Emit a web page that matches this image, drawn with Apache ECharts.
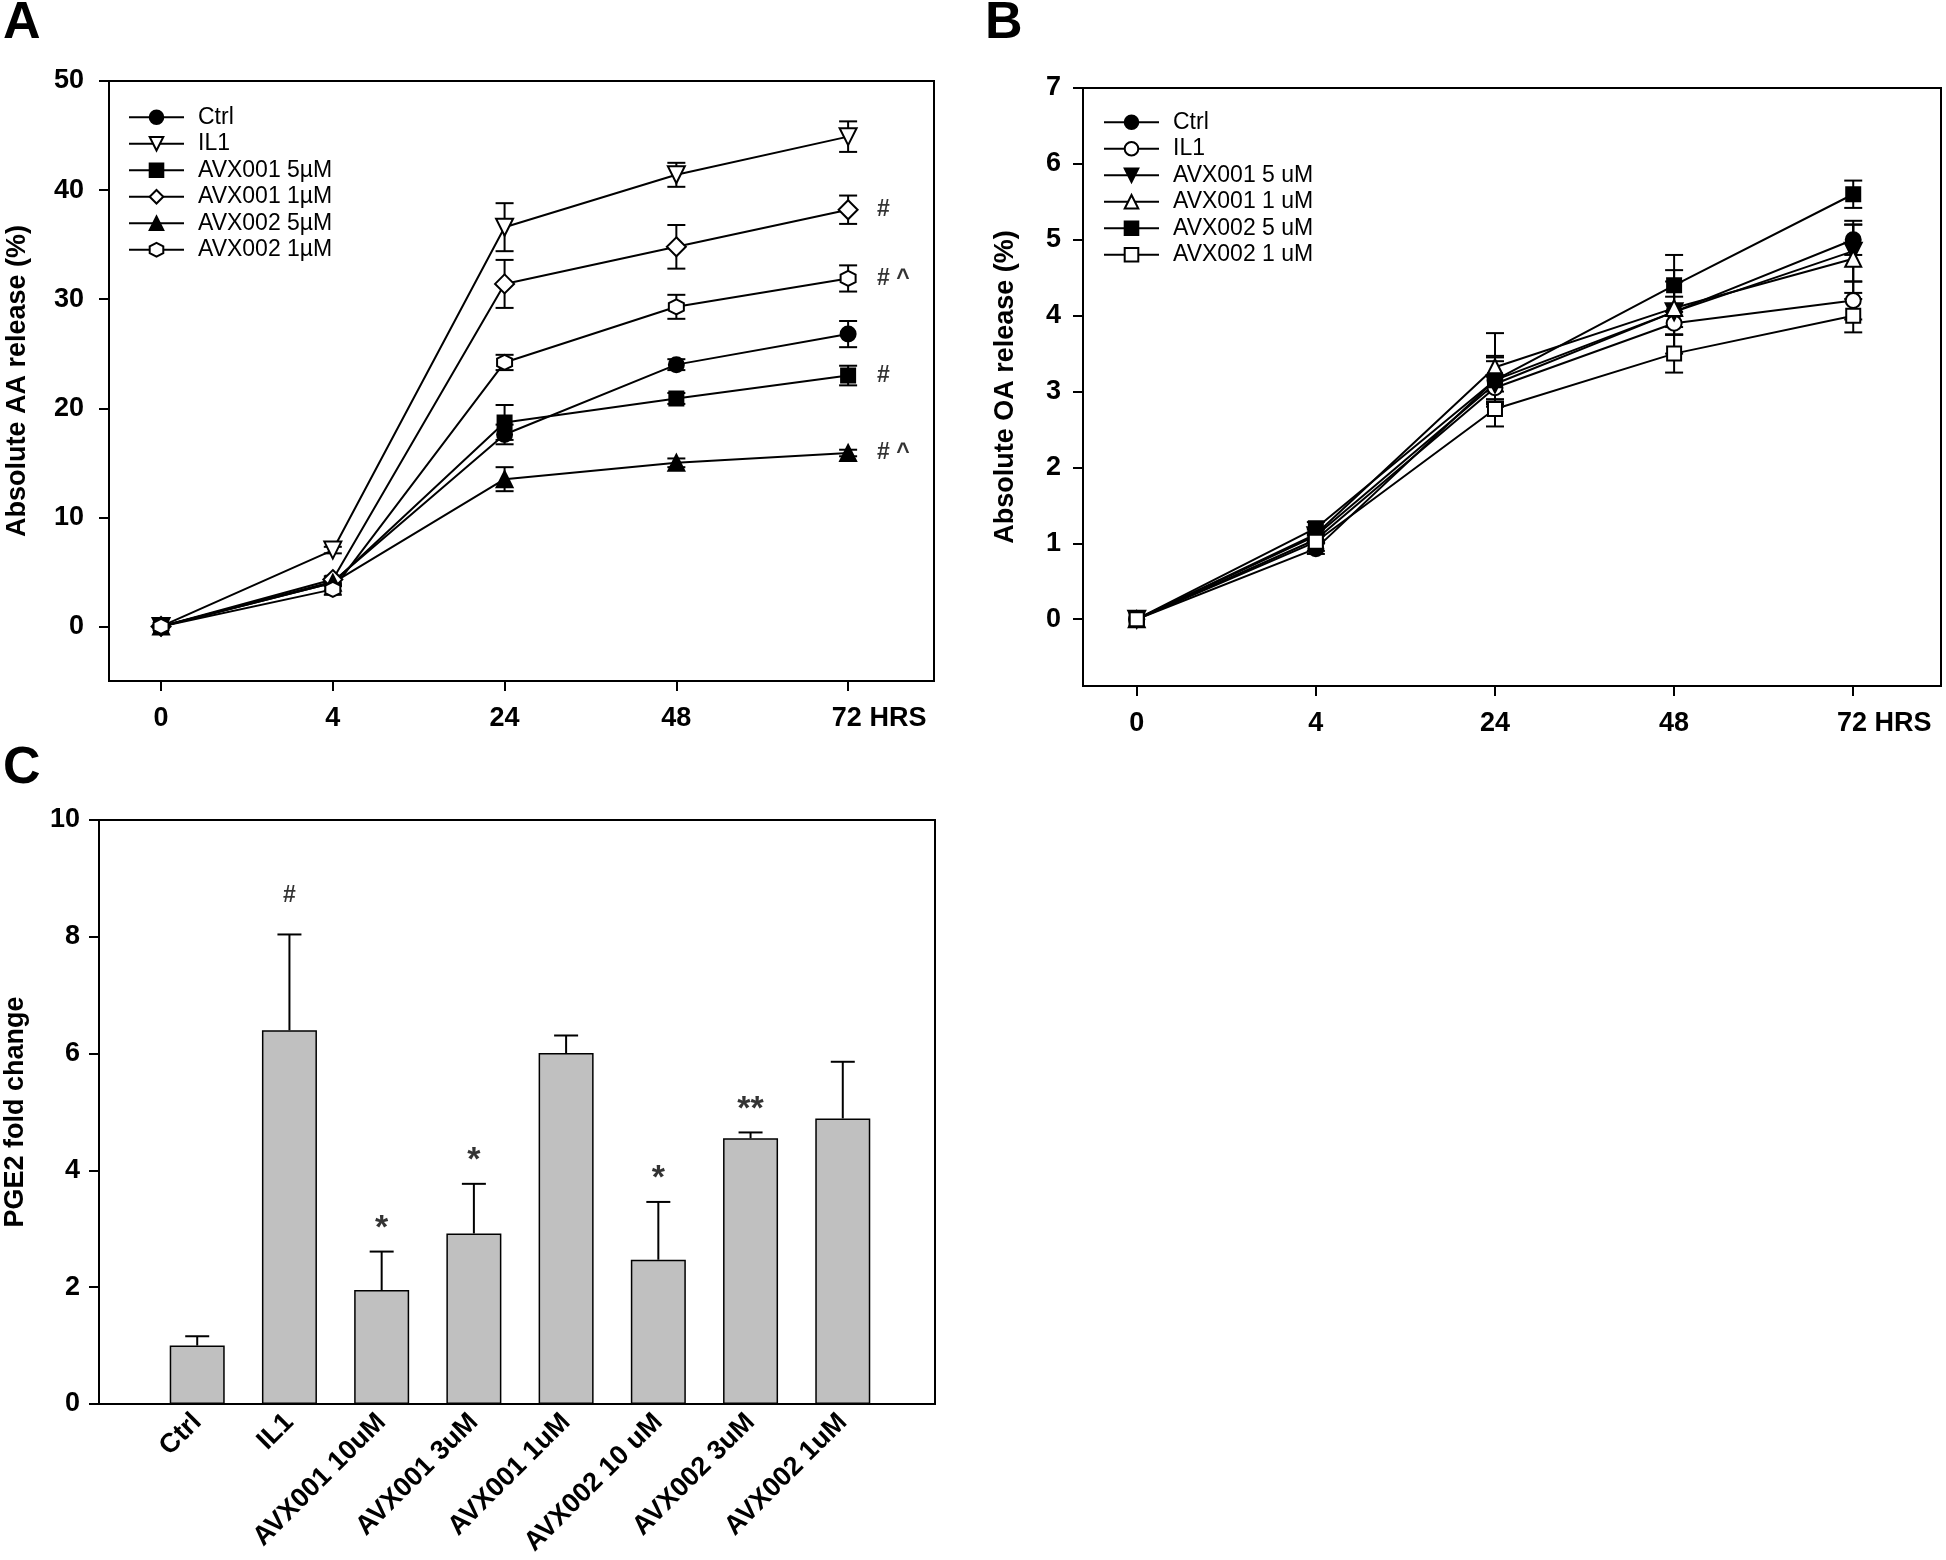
<!DOCTYPE html>
<html>
<head>
<meta charset="utf-8">
<script src="https://cdn.jsdelivr.net/npm/echarts@6/dist/echarts.min.js"></script>
<style>
    html, body { margin: 0; padding: 0; background: #fff; }
    #main { width: 1946px; height: 1560px; }
</style>
</head>
<body>
<div id="main"></div>
<script>
// time points, drawn evenly spaced at positions 0..4
const timeLabels = ['0', '4', '24', '48', '72 HRS']

// panel A - absolute AA release (%)
const aaNames = ['Ctrl', 'IL1', 'AVX001 5µM', 'AVX001 1µM', 'AVX002 5µM', 'AVX002 1µM']
const aaCtrl = [0, 4.1, 17.6, 24.0, 26.8]
const aaIL1 = [0, 7.0, 36.6, 41.4, 44.9]
const aaAvx001_5 = [0, 4.0, 18.7, 20.9, 23.0]
const aaAvx001_1 = [0, 4.3, 31.4, 34.8, 38.2]
const aaAvx002_5 = [0, 4.0, 13.5, 15.0, 15.9]
const aaAvx002_1 = [0, 3.4, 24.2, 29.3, 31.9]
const aaCtrlErr = [0, 0.3, 0.9, 0.5, 1.2]
const aaIL1Err = [0, 0.3, 2.2, 1.1, 1.4]
const aaAvx001_5Err = [0, 0.3, 1.6, 0.5, 0.9]
const aaAvx001_1Err = [0, 0.3, 2.2, 2.0, 1.3]
const aaAvx002_5Err = [0, 0.3, 1.1, 0.4, 0.3]
const aaAvx002_1Err = [0, 0.5, 0.7, 1.1, 1.2]
const aaMarks = ['', '', '#', '#', '# ^', '# ^']
const aaTicks = [0, 10, 20, 30, 40, 50]

// panel B - absolute OA release (%)
const oaNames = ['Ctrl', 'IL1', 'AVX001 5 uM', 'AVX001 1 uM', 'AVX002 5 uM', 'AVX002 1 uM']
const oaCtrl = [0, 0.93, 3.15, 4.05, 5.0]
const oaIL1 = [0, 1.05, 3.05, 3.9, 4.2]
const oaAvx001_5 = [0, 1.1, 3.1, 4.05, 4.85]
const oaAvx001_1 = [0, 1.12, 3.32, 4.1, 4.75]
const oaAvx002_5 = [0, 1.2, 3.15, 4.4, 5.6]
const oaAvx002_1 = [0, 1.02, 2.77, 3.5, 4.0]
const oaCtrlErr = [0, 0.07, 0.3, 0.2, 0.2]
const oaIL1Err = [0, 0.05, 0.15, 0.15, 0.25]
const oaAvx001_5Err = [0, 0.08, 0.3, 0.55, 0.4]
const oaAvx001_1Err = [0, 0.08, 0.45, 0.35, 0.45]
const oaAvx002_5Err = [0, 0.08, 0.32, 0.4, 0.18]
const oaAvx002_1Err = [0, 0.12, 0.23, 0.25, 0.22]
const oaTicks = [0, 1, 2, 3, 4, 5, 6, 7]

// panel C - PGE2 fold change
const pgeLabels = ['Ctrl', 'IL1', 'AVX001 10uM', 'AVX001 3uM', 'AVX001 1uM', 'AVX002 10 uM', 'AVX002 3uM', 'AVX002 1uM']
const pgeMean = [1.0, 6.4, 1.95, 2.92, 6.01, 2.47, 4.55, 4.89]
const pgeErr = [0.16, 1.64, 0.66, 0.85, 0.3, 0.99, 0.1, 0.97]
const pgeMarks = ['', '#', '*', '*', '', '*', '**', '']
const pgeTicks = [0, 2, 4, 6, 8, 10]

const FONT = 'Liberation Sans'

// symbols
const DOWN_TRI = 'path://M0,0L10,0L5,9Z'
const HEXAGON = 'path://M5,0L9.33,2.5L9.33,7.5L5,10L0.67,7.5L0.67,2.5Z'

function pts(vals) {
    return vals.map((v, i) => [i, v])
}

// error bar drawing (both = up and down, else only up)
function errBar(both, cap) {
    return function (params, api) {
        const x = api.value(0), y = api.value(1), e = api.value(2)
        if (!e) return null
        const hi = api.coord([x, y + e])
        const lo = api.coord([x, both ? y - e : y])
        const style = { stroke: '#000', lineWidth: 2 }
        const kids = [
            { type: 'line', shape: { x1: hi[0], y1: hi[1], x2: lo[0], y2: lo[1] }, style },
            { type: 'line', shape: { x1: hi[0] - cap, y1: hi[1], x2: hi[0] + cap, y2: hi[1] }, style }
        ]
        if (both) {
            kids.push({ type: 'line', shape: { x1: lo[0] - cap, y1: lo[1], x2: lo[0] + cap, y2: lo[1] }, style })
        }
        return { type: 'group', children: kids }
    }
}

function lineSeries(name, vals, symbol, size, filled, gi) {
    return {
        type: 'line', name, xAxisIndex: gi, yAxisIndex: gi,
        data: pts(vals),
        symbol, symbolSize: size, showAllSymbol: true,
        lineStyle: { color: '#000', width: 2 },
        itemStyle: { color: filled ? '#000' : '#fff', borderColor: '#000', borderWidth: 2 },
        z: 3
    }
}

function errSeries(vals, errs, gi, both, cap) {
    return {
        type: 'custom', xAxisIndex: gi, yAxisIndex: gi,
        data: vals.map((v, i) => [i, v, errs[i]]),
        renderItem: errBar(both, cap),
        z: 2, silent: true
    }
}

const axisLine = { show: true, onZero: false, lineStyle: { color: '#000', width: 2 } }
const tickLabel = { color: '#000', fontSize: 27, fontWeight: 'bold', fontFamily: FONT }
const nameStyle = { color: '#000', fontSize: 27, fontWeight: 'bold', fontFamily: FONT }

function timeAxis(gi, min, max) {
    const idx = [0, 1, 2, 3, 4]
    return {
        type: 'value', gridIndex: gi, min, max,
        axisLine,
        splitLine: { show: false },
        axisTick: { show: true, length: 10, customValues: idx, lineStyle: { color: '#000', width: 2 } },
        axisLabel: Object.assign({
            customValues: idx, margin: 24,
            formatter: v => (Math.round(v) === 4 ? '{pad|}' : '') + timeLabels[Math.round(v)],
            rich: { pad: { width: 62 } }
        }, tickLabel)
    }
}

function valueAxis(gi, min, max, ticks, name, nameGap, margin) {
    return {
        type: 'value', gridIndex: gi, min, max,
        name, nameLocation: 'middle', nameGap, nameRotate: 90, nameTextStyle: nameStyle,
        axisLine,
        splitLine: { show: false },
        axisTick: { show: true, length: 10, customValues: ticks, lineStyle: { color: '#000', width: 2 } },
        axisLabel: Object.assign({ customValues: ticks, margin }, tickLabel)
    }
}

const legendText = { color: '#000', fontSize: 23, fontFamily: FONT, lineHeight: 26.5, padding: [0, 0, 0, 9] }

let mycharts = echarts.init(document.getElementById('main'))
mycharts.setOption({
    animation: false,
    backgroundColor: '#fff',
    graphic: [
        { type: 'text', left: 3, top: -2, style: { text: 'A', fontSize: 52, fontWeight: 'bold', fontFamily: FONT, fill: '#000' } },
        { type: 'text', left: 985, top: -2, style: { text: 'B', fontSize: 52, fontWeight: 'bold', fontFamily: FONT, fill: '#000' } },
        { type: 'text', left: 3, top: 743, style: { text: 'C', fontSize: 52, fontWeight: 'bold', fontFamily: FONT, fill: '#000' } }
    ],
    grid: [
        { left: 109, top: 81, width: 825, height: 600, show: true, borderColor: '#000', borderWidth: 2 },
        { left: 1083, top: 88, width: 858, height: 598, show: true, borderColor: '#000', borderWidth: 2 },
        { left: 99, top: 820, width: 836, height: 584, show: true, borderColor: '#000', borderWidth: 2 }
    ],
    legend: [
        {
            orient: 'vertical', left: 128, top: 104, padding: 0, itemGap: 0,
            itemWidth: 55, itemHeight: 17, selectedMode: false,
            data: aaNames, textStyle: legendText
        },
        {
            orient: 'vertical', left: 1103, top: 109, padding: 0, itemGap: 0,
            itemWidth: 55, itemHeight: 17, selectedMode: false,
            // trailing spaces keep B names apart from A names
            data: oaNames.map(n => n + ' '), textStyle: legendText
        }
    ],
    xAxis: [
        timeAxis(0, -0.303, 4.5),
        timeAxis(1, -0.3, 4.49),
        {
            type: 'value', gridIndex: 2, min: -1.065, max: 8.0,
            axisLine,
            splitLine: { show: false },
            axisTick: { show: false },
            axisLabel: Object.assign({
                customValues: [0, 1, 2, 3, 4, 5, 6, 7], rotate: 45, margin: 14,
                formatter: v => pgeLabels[Math.round(v)]
            }, tickLabel)
        }
    ],
    yAxis: [
        valueAxis(0, -5, 50, aaTicks, 'Absolute AA release (%)', 78, 25),
        valueAxis(1, -0.88, 7, oaTicks, 'Absolute OA release (%)', 64, 22),
        valueAxis(2, 0, 10, pgeTicks, 'PGE2 fold change', 70, 19)
    ],
    series: [
        // A error bars
        errSeries(aaCtrl, aaCtrlErr, 0, true, 9),
        errSeries(aaIL1, aaIL1Err, 0, true, 9),
        errSeries(aaAvx001_5, aaAvx001_5Err, 0, true, 9),
        errSeries(aaAvx001_1, aaAvx001_1Err, 0, true, 9),
        errSeries(aaAvx002_5, aaAvx002_5Err, 0, true, 9),
        errSeries(aaAvx002_1, aaAvx002_1Err, 0, true, 9),
        // A lines
        lineSeries(aaNames[0], aaCtrl, 'circle', 15, true, 0),
        lineSeries(aaNames[1], aaIL1, DOWN_TRI, 17, false, 0),
        lineSeries(aaNames[2], aaAvx001_5, 'rect', 14, true, 0),
        lineSeries(aaNames[3], aaAvx001_1, 'diamond', 19, false, 0),
        lineSeries(aaNames[4], aaAvx002_5, 'triangle', 16, true, 0),
        lineSeries(aaNames[5], aaAvx002_1, HEXAGON, 15, false, 0),
        // A significance marks at 72 h
        {
            type: 'scatter', xAxisIndex: 0, yAxisIndex: 0, symbolSize: 0, silent: true,
            data: [aaCtrl, aaIL1, aaAvx001_5, aaAvx001_1, aaAvx002_5, aaAvx002_1].map((s, k) => ({
                value: [4, s[4]],
                label: { show: !!aaMarks[k], formatter: aaMarks[k] }
            })),
            label: { position: 'right', distance: 29, color: '#000', fontSize: 23, fontWeight: 'bold', fontFamily: FONT }
        },
        // B error bars
        errSeries(oaCtrl, oaCtrlErr, 1, true, 9),
        errSeries(oaIL1, oaIL1Err, 1, true, 9),
        errSeries(oaAvx001_5, oaAvx001_5Err, 1, true, 9),
        errSeries(oaAvx001_1, oaAvx001_1Err, 1, true, 9),
        errSeries(oaAvx002_5, oaAvx002_5Err, 1, true, 9),
        errSeries(oaAvx002_1, oaAvx002_1Err, 1, true, 9),
        // B lines
        lineSeries(oaNames[0] + ' ', oaCtrl, 'circle', 15, true, 1),
        lineSeries(oaNames[1] + ' ', oaIL1, 'circle', 15, false, 1),
        lineSeries(oaNames[2] + ' ', oaAvx001_5, DOWN_TRI, 17, true, 1),
        lineSeries(oaNames[3] + ' ', oaAvx001_1, 'triangle', 16, false, 1),
        lineSeries(oaNames[4] + ' ', oaAvx002_5, 'rect', 14, true, 1),
        lineSeries(oaNames[5] + ' ', oaAvx002_1, 'rect', 14, false, 1),
        // C bars
        {
            type: 'bar', xAxisIndex: 2, yAxisIndex: 2,
            data: pts(pgeMean), barWidth: 55,
            itemStyle: { color: '#c0c0c0', borderColor: '#000', borderWidth: 1.5 },
            z: 2
        },
        errSeries(pgeMean, pgeErr, 2, false, 12),
        {
            type: 'scatter', xAxisIndex: 2, yAxisIndex: 2, symbolSize: 0, silent: true,
            data: pgeMean.map((v, i) => ({
                value: [i, v + pgeErr[i]],
                label: {
                    show: !!pgeMarks[i], formatter: pgeMarks[i],
                    fontSize: pgeMarks[i] === '#' ? 23 : 34,
                    distance: pgeMarks[i] === '#' ? 27 : 6
                }
            })),
            label: { position: 'top', color: '#000', fontWeight: 'bold', fontFamily: FONT }
        }
    ]
})
</script>
</body>
</html>
